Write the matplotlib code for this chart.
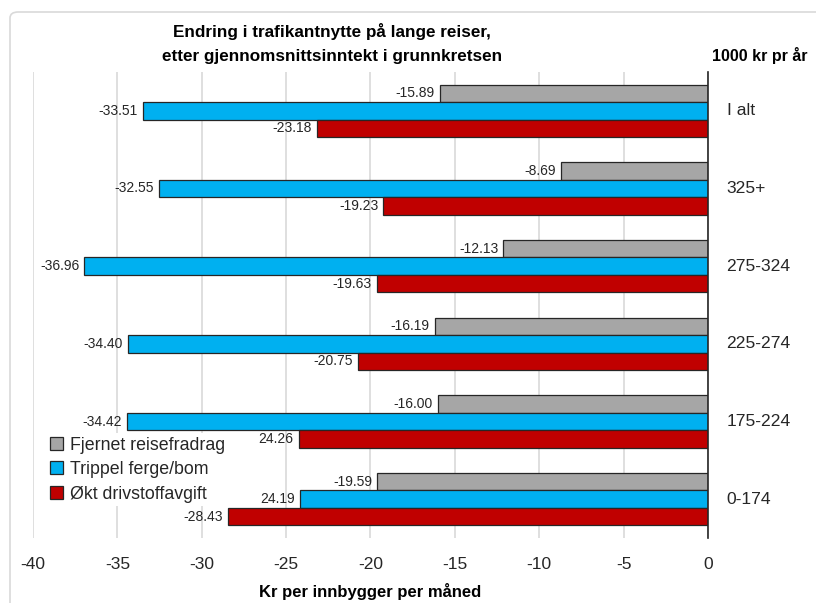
import matplotlib
matplotlib.use("Agg")
import matplotlib.pyplot as plt
from matplotlib.patches import FancyBboxPatch, Patch
import numpy as np

categories = ["I alt", "325+", "275-324", "225-274", "175-224", "0-174"]
series_names = ["Fjernet reisefradrag", "Trippel ferge/bom", "Økt drivstoffavgift"]
gray_vals = [-15.89, -8.69, -12.13, -16.19, -16.00, -19.59]
blue_vals = [-33.51, -32.55, -36.96, -34.40, -34.42, -24.19]
red_vals = [-23.18, -19.23, -19.63, -20.75, -24.26, -28.43]
gray_labels = ["-15.89", "-8.69", "-12.13", "-16.19", "-16.00", "-19.59"]
blue_labels = ["-33.51", "-32.55", "-36.96", "-34.40", "-34.42", "24.19"]
red_labels = ["-23.18", "-19.23", "-19.63", "-20.75", "24.26", "-28.43"]
xticks = [-40, -35, -30, -25, -20, -15, -10, -5, 0]

colors = ["#a6a6a6", "#00b0f0", "#c00000"]
FONT = ["Liberation Sans", "DejaVu Sans"]
plt.rcParams["font.family"] = FONT
TXT = "#262626"

fig = plt.figure(figsize=(8.16, 6.03), dpi=100)
fig.patches.append(FancyBboxPatch((10 / 816, -0.05), 1.2, (603 - 12) / 603 + 0.05,
                                  boxstyle="round,pad=0,rounding_size=0.01",
                                  transform=fig.transFigure, fill=False,
                                  edgecolor="#d9d9d9", linewidth=1.2))
ax = fig.add_axes([33 / 816, (603 - 538) / 603, (708 - 33) / 816, 466 / 603])

y = np.arange(len(categories))
h = 0.225
for vals, labs, off, c in [(gray_vals, gray_labels, -h, colors[0]),
                           (blue_vals, blue_labels, 0, colors[1]),
                           (red_vals, red_labels, h, colors[2])]:
    ax.barh(y + off, vals, height=h, color=c, edgecolor=TXT, linewidth=0.9, zorder=3)
    for yi, v, lab in zip(y, vals, labs):
        ax.text(v - 0.3, yi + off, lab, ha="right", va="center", fontsize=10,
                color=TXT)

ax.set_xlim(-40, 0)
ax.set_ylim(len(categories) - 0.5, -0.5)
ax.set_xticks(xticks)
ax.set_xticklabels([str(t) for t in xticks], fontsize=12.5, color=TXT)
ax.tick_params(axis="x", length=0, pad=14)
ax.set_yticks([])
ax.grid(axis="x", color="#d9d9d9", linewidth=1.2, zorder=0)
for s in ["top", "left", "bottom"]:
    ax.spines[s].set_visible(False)
ax.spines["right"].set_color(TXT)
ax.spines["right"].set_linewidth(1.2)
ax.spines["right"].set_zorder(5)

for yi, cat in zip(y, categories):
    ax.text(1.1, yi, cat, ha="left", va="center", fontsize=12.6, color=TXT)

fig.text(370 / 816, 1 - 592 / 603, "Kr per innbygger per måned", ha="center", va="center",
         fontsize=12, fontweight="bold", color="black")

fig.text(332 / 816, 1 - 32 / 603, "Endring i trafikantnytte på lange reiser,", ha="center",
         va="center", fontsize=12.3, fontweight="bold")
fig.text(332 / 816, 1 - 57 / 603, "etter gjennomsnittsinntekt i grunnkretsen", ha="center",
         va="center", fontsize=12.3, fontweight="bold")
fig.text(712 / 816, 1 - 55 / 603, "1000 kr pr år", ha="left", va="center", fontsize=11.5,
         fontweight="bold")

handles = [Patch(facecolor=c, edgecolor=TXT, linewidth=0.9) for c in colors]
leg = ax.legend(handles, series_names, loc="upper left", bbox_to_anchor=(0.02, 0.225),
                bbox_transform=ax.transAxes, frameon=True,
                handlelength=0.75, handleheight=0.75, handletextpad=0.4, labelspacing=0.42,
                borderpad=0.2, borderaxespad=0.0, prop={"size": 12.8})
for t in leg.get_texts():
    t.set_color(TXT)
leg.get_frame().set_edgecolor("none")
leg.get_frame().set_facecolor("white")
leg.get_frame().set_alpha(1.0)
leg.set_zorder(4)

fig.savefig("out.png", dpi=100)
